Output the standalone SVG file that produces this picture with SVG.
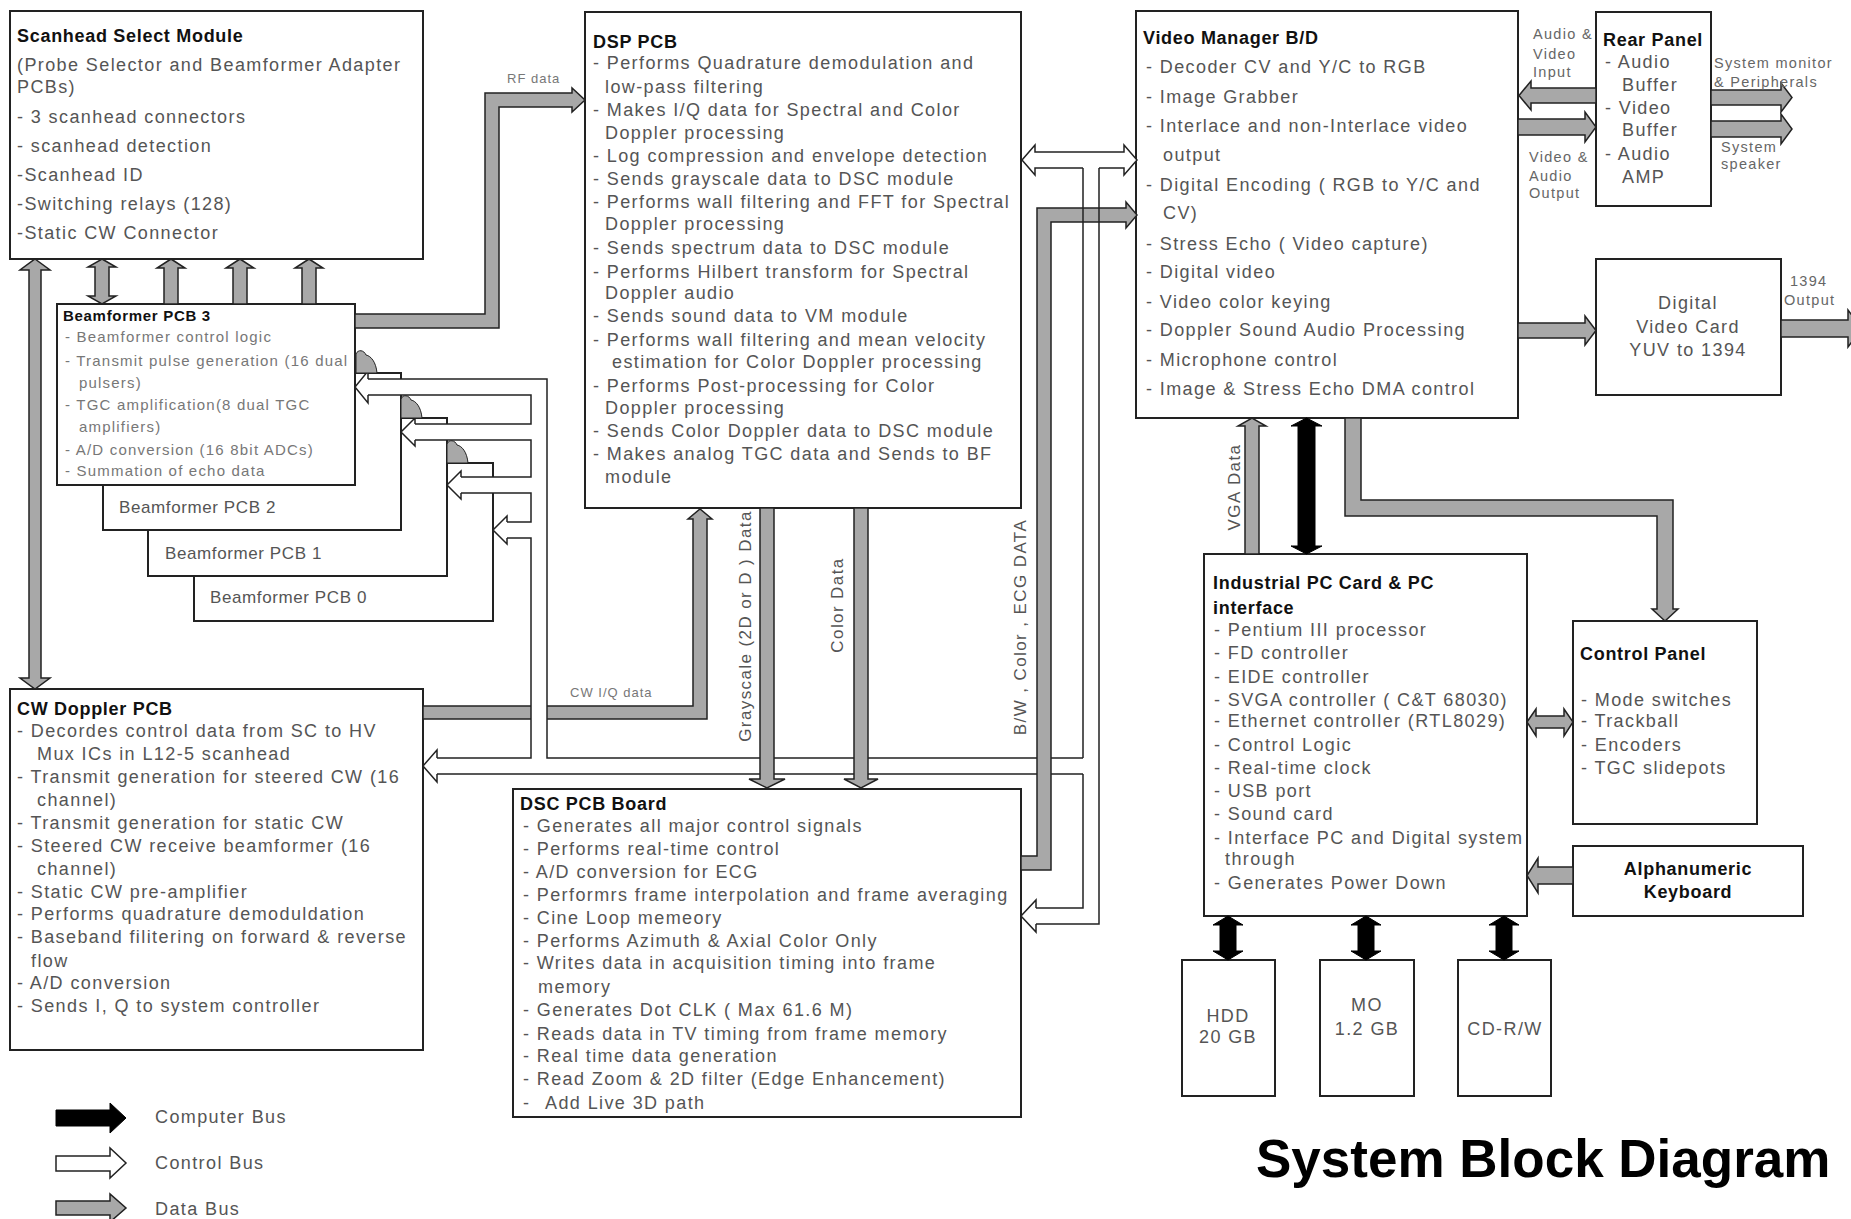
<svg xmlns="http://www.w3.org/2000/svg" width="1851" height="1219" viewBox="0 0 1851 1219">
<style>
.bg{fill:#fff}
.box{fill:#fff;stroke:#222;stroke-width:2}
.t{font-family:"Liberation Sans",Arial,sans-serif;font-size:18px;fill:#555;letter-spacing:1.4px}
.h{font-family:"Liberation Sans",Arial,sans-serif;font-size:18px;font-weight:bold;fill:#111;letter-spacing:0.7px}
.s{font-family:"Liberation Sans",Arial,sans-serif;font-size:15px;fill:#777;letter-spacing:1.2px}
.sh{font-family:"Liberation Sans",Arial,sans-serif;font-size:15px;font-weight:bold;fill:#111;letter-spacing:0.7px}
.lab{font-family:"Liberation Sans",Arial,sans-serif;font-size:14.5px;fill:#666;letter-spacing:1.3px}
.sm{font-family:"Liberation Sans",Arial,sans-serif;font-size:13px;fill:#777;letter-spacing:1px}
.rot{font-family:"Liberation Sans",Arial,sans-serif;font-size:17px;fill:#555;letter-spacing:1.4px;text-anchor:middle}
.c{text-anchor:middle}
.data{fill:#a8a8a8;stroke:#222;stroke-width:1.5}
.ctl{fill:#fff;stroke:#222;stroke-width:1.5}
.cl{fill:none;stroke:#222;stroke-width:1.5}
.wf{fill:#fff}
.comp{fill:#000;stroke:#000;stroke-width:1}
</style>
<rect class="bg" x="0" y="0" width="1851" height="1219"/>

<g id="scanhead-select-module">
<rect class="box" x="10" y="11" width="413" height="248"/>
<text class="h" x="17" y="42">Scanhead Select Module</text>
<text class="t" x="17" y="71">(Probe Selector and Beamformer Adapter</text>
<text class="t" x="17" y="93">PCBs)</text>
<text class="t" x="17" y="123">- 3 scanhead connectors</text>
<text class="t" x="17" y="152">- scanhead detection</text>
<text class="t" x="17" y="181">-Scanhead ID</text>
<text class="t" x="17" y="210">-Switching relays (128)</text>
<text class="t" x="17" y="239">-Static CW Connector</text>
</g>

<g id="beamformer-pcb-0">
<rect class="box" x="194" y="463" width="299" height="158"/>
<text class="t" x="210" y="603" style="font-size:17px;letter-spacing:0.6px">Beamformer PCB 0</text>
</g>
<g id="beamformer-pcb-1">
<rect class="box" x="148" y="418" width="299" height="158"/>
<text class="t" x="165" y="559" style="font-size:17px;letter-spacing:0.6px">Beamformer PCB 1</text>
</g>
<g id="beamformer-pcb-2">
<rect class="box" x="103" y="373" width="298" height="157"/>
<text class="t" x="119" y="513" style="font-size:17px;letter-spacing:0.6px">Beamformer PCB 2</text>
</g>
<g id="beamformer-pcb-3">
<rect class="box" x="57" y="304" width="298" height="181"/>
<text class="sh" x="63" y="321">Beamformer PCB 3</text>
<text class="s" x="65" y="342">- Beamformer control logic</text>
<text class="s" x="65" y="366">- Transmit pulse generation (16 dual</text>
<text class="s" x="79" y="388">pulsers)</text>
<text class="s" x="65" y="410">- TGC amplification(8 dual TGC</text>
<text class="s" x="79" y="432">amplifiers)</text>
<text class="s" x="65" y="455">- A/D conversion (16 8bit ADCs)</text>
<text class="s" x="65" y="476">- Summation of echo data</text>
</g>

<g id="dsp-pcb">
<rect class="box" x="585" y="12" width="436" height="496"/>
<text class="h" x="593" y="48">DSP PCB</text>
<text class="t" x="593" y="69">- Performs Quadrature demodulation and</text>
<text class="t" x="605" y="93">low-pass filtering</text>
<text class="t" x="593" y="116">- Makes I/Q data for Spectral and Color</text>
<text class="t" x="605" y="139">Doppler processing</text>
<text class="t" x="593" y="162">- Log compression and envelope detection</text>
<text class="t" x="593" y="185">- Sends grayscale data to DSC module</text>
<text class="t" x="593" y="208">- Performs wall filtering and FFT for Spectral</text>
<text class="t" x="605" y="230">Doppler processing</text>
<text class="t" x="593" y="254">- Sends spectrum data to DSC module</text>
<text class="t" x="593" y="278">- Performs Hilbert transform for Spectral</text>
<text class="t" x="605" y="299">Doppler audio</text>
<text class="t" x="593" y="322">- Sends sound data to VM module</text>
<text class="t" x="593" y="346">- Performs wall filtering and mean velocity</text>
<text class="t" x="612" y="368">estimation for Color Doppler processing</text>
<text class="t" x="593" y="392">- Performs Post-processing for Color</text>
<text class="t" x="605" y="414">Doppler processing</text>
<text class="t" x="593" y="437">- Sends Color Doppler data to DSC module</text>
<text class="t" x="593" y="460">- Makes analog TGC data and Sends to BF</text>
<text class="t" x="605" y="483">module</text>
</g>

<g id="cw-doppler-pcb">
<rect class="box" x="10" y="689" width="413" height="361"/>
<text class="h" x="17" y="715">CW Doppler PCB</text>
<text class="t" x="17" y="737">- Decordes control data from SC to HV</text>
<text class="t" x="37" y="760">Mux ICs in L12-5 scanhead</text>
<text class="t" x="17" y="783">- Transmit generation for steered CW (16</text>
<text class="t" x="37" y="806">channel)</text>
<text class="t" x="17" y="829">- Transmit generation for static CW</text>
<text class="t" x="17" y="852">- Steered CW receive beamformer (16</text>
<text class="t" x="37" y="875">channel)</text>
<text class="t" x="17" y="898">- Static CW pre-amplifier</text>
<text class="t" x="17" y="920">- Performs quadrature demoduldation</text>
<text class="t" x="17" y="943">- Baseband filitering on forward &amp; reverse</text>
<text class="t" x="31" y="967">flow</text>
<text class="t" x="17" y="989">- A/D conversion</text>
<text class="t" x="17" y="1012">- Sends I, Q to system controller</text>
</g>

<g id="dsc-pcb-board">
<rect class="box" x="513" y="789" width="508" height="328"/>
<text class="h" x="520" y="810">DSC PCB Board</text>
<text class="t" x="523" y="832">- Generates all major control signals</text>
<text class="t" x="523" y="855">- Performs real-time control</text>
<text class="t" x="523" y="878">- A/D conversion for ECG</text>
<text class="t" x="523" y="901">- Performrs frame interpolation and frame averaging</text>
<text class="t" x="523" y="924">- Cine Loop memeory</text>
<text class="t" x="523" y="947">- Performs Azimuth &amp; Axial Color Only</text>
<text class="t" x="523" y="969">- Writes data in acquisition timing into frame</text>
<text class="t" x="538" y="993">memory</text>
<text class="t" x="523" y="1016">- Generates Dot CLK ( Max 61.6 M)</text>
<text class="t" x="523" y="1040">- Reads data in TV timing from frame memory</text>
<text class="t" x="523" y="1062">- Real time data generation</text>
<text class="t" x="523" y="1085">- Read Zoom &amp; 2D filter (Edge Enhancement)</text>
<text class="t" x="523" y="1109">-<tspan x="545">Add Live 3D path</tspan></text>
</g>

<g id="video-manager">
<rect class="box" x="1136" y="11" width="382" height="407"/>
<text class="h" x="1143" y="44">Video Manager B/D</text>
<text class="t" x="1146" y="73">- Decoder CV and Y/C to RGB</text>
<text class="t" x="1146" y="103">- Image Grabber</text>
<text class="t" x="1146" y="132">- Interlace and non-Interlace video</text>
<text class="t" x="1163" y="161">output</text>
<text class="t" x="1146" y="191">- Digital Encoding ( RGB to Y/C and</text>
<text class="t" x="1163" y="219">CV)</text>
<text class="t" x="1146" y="250">- Stress Echo ( Video capture)</text>
<text class="t" x="1146" y="278">- Digital video</text>
<text class="t" x="1146" y="308">- Video color keying</text>
<text class="t" x="1146" y="336">- Doppler Sound Audio Processing</text>
<text class="t" x="1146" y="366">- Microphone control</text>
<text class="t" x="1146" y="395">- Image &amp; Stress Echo DMA control</text>
</g>

<g id="rear-panel">
<rect class="box" x="1596" y="12" width="115" height="194"/>
<text class="h" x="1603" y="46">Rear Panel</text>
<text class="t" x="1605" y="68">- Audio</text>
<text class="t" x="1622" y="91">Buffer</text>
<text class="t" x="1605" y="114">- Video</text>
<text class="t" x="1622" y="136">Buffer</text>
<text class="t" x="1605" y="160">- Audio</text>
<text class="t" x="1622" y="183">AMP</text>
</g>

<g id="digital-video-card">
<rect class="box" x="1596" y="259" width="185" height="136"/>
<text class="t c" x="1688" y="309">Digital</text>
<text class="t c" x="1688" y="333">Video Card</text>
<text class="t c" x="1688" y="356">YUV to 1394</text>
</g>

<g id="industrial-pc-card">
<rect class="box" x="1204" y="554" width="323" height="362"/>
<text class="h" x="1213" y="589">Industrial PC Card &amp; PC</text>
<text class="h" x="1213" y="614">interface</text>
<text class="t" x="1214" y="636">- Pentium III processor</text>
<text class="t" x="1214" y="659">- FD controller</text>
<text class="t" x="1214" y="683">- EIDE controller</text>
<text class="t" x="1214" y="706">- SVGA controller ( C&amp;T 68030)</text>
<text class="t" x="1214" y="727">- Ethernet controller (RTL8029)</text>
<text class="t" x="1214" y="751">- Control Logic</text>
<text class="t" x="1214" y="774">- Real-time clock</text>
<text class="t" x="1214" y="797">- USB port</text>
<text class="t" x="1214" y="820">- Sound card</text>
<text class="t" x="1214" y="844">- Interface PC and Digital system</text>
<text class="t" x="1225" y="865">through</text>
<text class="t" x="1214" y="889">- Generates Power Down</text>
</g>

<g id="control-panel">
<rect class="box" x="1573" y="621" width="184" height="203"/>
<text class="h" x="1580" y="660">Control Panel</text>
<text class="t" x="1581" y="706">- Mode switches</text>
<text class="t" x="1581" y="727">- Trackball</text>
<text class="t" x="1581" y="751">- Encoders</text>
<text class="t" x="1581" y="774">- TGC slidepots</text>
</g>

<g id="alphanumeric-keyboard">
<rect class="box" x="1573" y="846" width="230" height="70"/>
<text class="h c" x="1688" y="875">Alphanumeric</text>
<text class="h c" x="1688" y="898">Keyboard</text>
</g>

<g id="hdd">
<rect class="box" x="1182" y="960" width="93" height="136"/>
<text class="t c" x="1228" y="1022">HDD</text>
<text class="t c" x="1228" y="1043">20 GB</text>
</g>
<g id="mo">
<rect class="box" x="1320" y="960" width="94" height="136"/>
<text class="t c" x="1367" y="1011">MO</text>
<text class="t c" x="1367" y="1035">1.2 GB</text>
</g>
<g id="cd-rw">
<rect class="box" x="1458" y="960" width="93" height="136"/>
<text class="t c" x="1505" y="1035">CD-R/W</text>
</g>

<g id="connectors">
<!-- data buses under control channel -->
<path class="data" d="M423,706 H693 V519 H688 L700,509 L712,519 H707 V719 H423 Z"/>
<!-- control bus (open) -->
<path class="ctl" d="M1022,160 L1035,145 V152 H1124 V145 L1137,160 L1124,175 V168 H1035 V175 Z"/>
<g class="wf">
<rect x="368" y="379" width="179" height="16"/>
<rect x="531" y="379" width="16" height="395"/>
<rect x="415" y="424" width="116" height="16"/>
<rect x="461" y="477" width="70" height="16"/>
<rect x="507" y="522" width="24" height="16"/>
<rect x="437" y="758" width="662" height="16"/>
<rect x="1083" y="160" width="16" height="764"/>
<rect x="1036" y="908" width="63" height="16"/>
</g>
<path class="cl" d="M368,379 H547 V758 H1083 M368,395 H531 V424 H415 M415,440 H531 V477 H461 M461,493 H531 V522 H507 M507,538 H531 V758 H437 M437,774 H1083"/>
<path class="ctl" d="M368,379 V371 L355,387 L368,403 V395"/>
<path class="ctl" d="M415,424 V418 L401,432 L415,446 V440"/>
<path class="ctl" d="M461,477 V471 L447,485 L461,499 V493"/>
<path class="ctl" d="M507,522 V516 L493,530 L507,544 V538"/>
<path class="ctl" d="M437,758 V750 L423,766 L437,782 V774"/>
<path class="ctl" d="M1036,908 V900 L1021,916 L1036,932 V924"/>
<!-- odd gray blobs at beamformer corners -->
<path class="data" style="stroke-width:1" d="M356,373 V354 C358,349 364,350 366,355 C371,356 376,362 377,373 Z"/>
<path class="data" style="stroke-width:1" d="M401,418 V399 C403,394 409,395 411,400 C416,401 421,407 422,418 Z"/>
<path class="data" style="stroke-width:1" d="M447,463 V444 C449,439 455,440 457,445 C462,446 467,452 468,463 Z"/>
<!-- data buses -->
<path class="data" d="M35,259 L50,270 H41 V678 H50 L35,689 L20,678 H29 V270 H20 Z"/>
<path class="data" d="M102,259 L116,267 H109 V296 H116 L102,304 L88,296 H95 V267 H88 Z"/>
<path class="data" d="M171,259 L185,268 H178 V304 H164 V268 H157 Z"/>
<path class="data" d="M240,259 L254,268 H247 V304 H233 V268 H226 Z"/>
<path class="data" d="M309,259 L323,268 H316 V304 H302 V268 H295 Z"/>
<path class="data" d="M355,314 H485 V93 H572 V88 L585,100 L572,112 V107 H499 V328 H355 Z"/>
<path class="data" d="M760,508 H774 V779 H785 L767,788 L749,779 H760 Z"/>
<path class="data" d="M854,508 H868 V779 H878 L861,788 L844,779 H854 Z"/>
<path class="data" d="M1021,856 H1037 V208 H1126 V202 L1137,215 L1126,228 V222 H1051 V870 H1021 Z"/>
<path class="cl" d="M1083,168 V758 M1083,774 V908 H1036 M1036,924 H1099 V168"/>
<path class="data" d="M1596,88 H1531 V81 L1519,95.5 L1531,110 V103 H1596 Z"/>
<path class="data" d="M1518,119 H1585 V112 L1596,127 L1585,142 V135 H1518 Z"/>
<path class="data" d="M1711,90 H1781 V83 L1792,97.5 L1781,112 V105 H1711 Z"/>
<path class="data" d="M1711,121 H1781 V114 L1792,129 L1781,144 V137 H1711 Z"/>
<path class="data" d="M1518,323 H1585 V316 L1596,330.5 L1585,345 V338 H1518 Z"/>
<path class="data" d="M1781,320 H1848 V310 L1862,328.5 L1848,347 V337 H1781 Z"/>
<path class="data" d="M1245,554 V426 H1238 L1252,418 L1266,426 H1259 V554 Z"/>
<path class="data" d="M1345,418 H1361 V500 H1673 V609 H1678 L1665,621 L1652,609 H1657 V516 H1345 Z"/>
<path class="data" d="M1527,722 L1536,709 V716 H1564 V709 L1573,722 L1564,736 V728 H1536 V736 Z"/>
<path class="data" d="M1573,867 H1538 V858 L1527,875.5 L1538,893 V884 H1573 Z"/>
<!-- computer buses -->
<path class="comp" d="M1306.5,418 L1322,426 H1315 V546 H1322 L1306.5,554 L1291,546 H1298 V426 H1291 Z"/>
<path class="comp" d="M1228,916 L1243,925 H1236 V951 H1243 L1228,960 L1213,951 H1220 V925 H1213 Z"/>
<path class="comp" d="M1366,916 L1381,925 H1374 V951 H1381 L1366,960 L1351,951 H1358 V925 H1351 Z"/>
<path class="comp" d="M1504,916 L1519,925 H1512 V951 H1519 L1504,960 L1489,951 H1496 V925 H1489 Z"/>
<!-- connector labels -->
<text class="sm" x="507" y="83">RF data</text>
<text class="sm" x="570" y="697">CW I/Q data</text>
<text class="rot" transform="translate(745,626) rotate(-90)" y="6">Grayscale (2D or D ) Data</text>
<text class="rot" transform="translate(837,605) rotate(-90)" y="6">Color Data</text>
<text class="rot" transform="translate(1020,627) rotate(-90)" y="6">B/W , Color , ECG DATA</text>
<text class="rot" transform="translate(1234,487) rotate(-90)" y="6">VGA Data</text>
<text class="lab" x="1533" y="39">Audio &amp;</text>
<text class="lab" x="1533" y="59">Video</text>
<text class="lab" x="1533" y="77">Input</text>
<text class="lab" x="1529" y="162">Video &amp;</text>
<text class="lab" x="1529" y="181">Audio</text>
<text class="lab" x="1529" y="198">Output</text>
<text class="lab" x="1714" y="68">System monitor</text>
<text class="lab" x="1714" y="87">&amp; Peripherals</text>
<text class="lab" x="1721" y="152">System</text>
<text class="lab" x="1721" y="169">speaker</text>
<text class="lab" x="1790" y="286">1394</text>
<text class="lab" x="1784" y="305">Output</text>
</g>

<g id="legend">
<path class="comp" d="M56,1110 H110 V1103 L126,1118 L110,1133 V1126 H56 Z"/>
<path class="ctl" d="M56,1156 H110 V1148 L126,1163 L110,1178 V1171 H56 Z"/>
<path class="data" d="M56,1201 H110 V1194 L126,1208 L110,1222 V1215 H56 Z"/>
<text class="t" x="155" y="1123">Computer Bus</text>
<text class="t" x="155" y="1169">Control Bus</text>
<text class="t" x="155" y="1215">Data Bus</text>
</g>

<text id="title" x="1256" y="1177" style="font-family:'Liberation Sans',Arial,sans-serif;font-size:53px;font-weight:bold;fill:#000">System Block Diagram</text>
</svg>
